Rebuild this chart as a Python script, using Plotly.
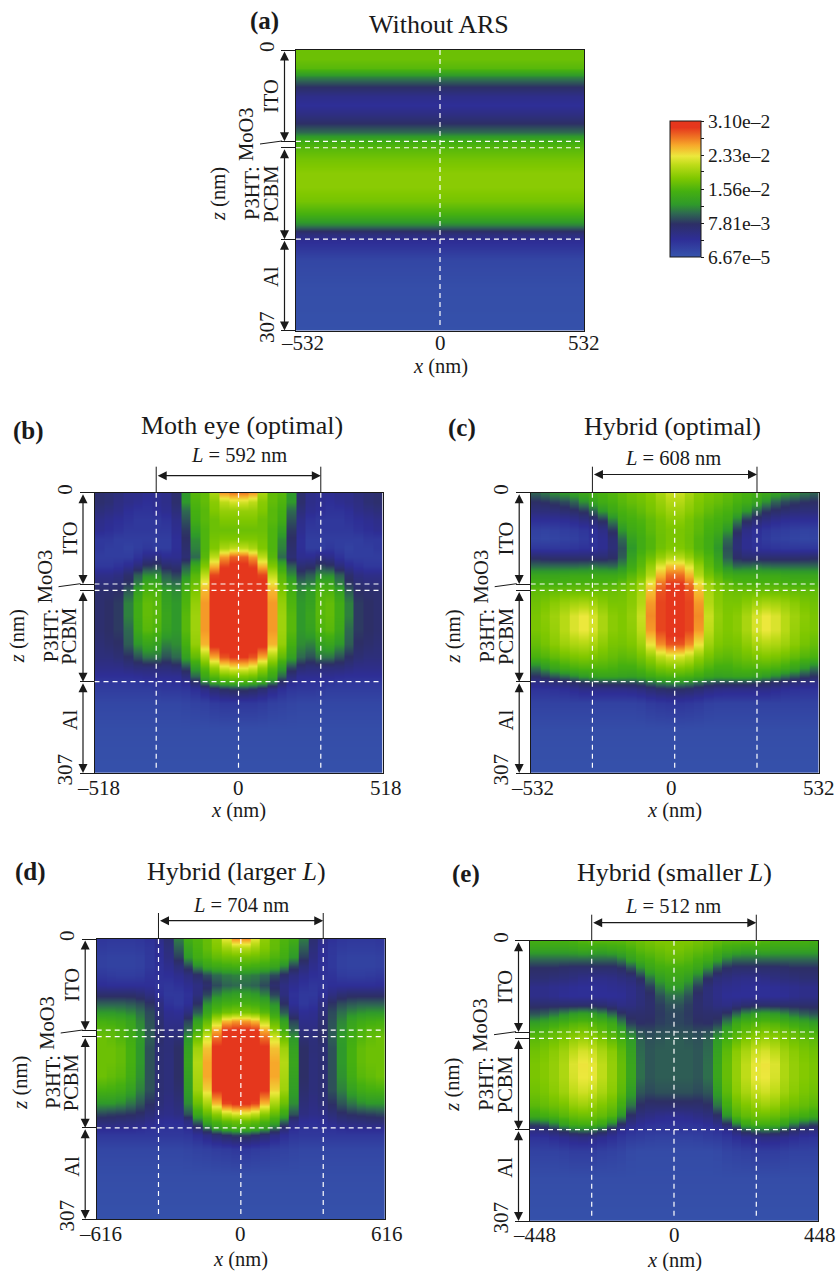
import numpy as np
import plotly.graph_objects as go

W, H = 838, 1271
FONT = "Liberation Serif"
INK = "#1a1a1a"

# Depth of each data row (nm) and layer interfaces
ROW_Z = [0, 10, 20, 30, 40, 50, 60, 70, 80, 90, 100, 107, 120, 135, 150, 165, 180, 192, 200, 207, 215, 230, 260, 307]
INTERFACES = [100, 107, 207]
Z_MAX = 307

# Field values in units of 1e-3.
# Each row lists the 15 columns from x = 0 out to the panel edge.
UNIT = 1e-3
A_PROFILE = [17, 17, 16, 11, 7.5, 5, 4, 5.5, 7.5, 10, 14.5, 16, 17.5, 18.5, 18.5, 17.5, 15, 11, 6.5, 4.5, 3.5, 1.5, 0.7, 0.4]

B_HALF = [
 [27,26,20,16.5,16,12,7,5,4.5,4.5,5,5,6,6.5,7],
 [22,21,18.5,16.5,15.5,12,7,5,4.5,4,4.5,5,5.5,6.5,7],
 [19,19,18,16,15,10,6,4.5,4,3.5,3.5,4,5,5.5,6],
 [18,18,17,16,14.5,9,5,3.5,3,3,3,3.5,4,4.5,5],
 [17,17,17,15.5,13,8,4.5,3,3,3,3,3,3.5,4,4.5],
 [18,18,17.5,15.5,11.5,7.5,4,2.5,2.5,2.5,2.5,2.5,2.5,3,3],
 [21,20,18,15.5,11,7,4,2.5,2.5,3,2.5,2,2.5,2.5,3],
 [28,26,21,16,10,6.5,4.5,4.5,5.5,5,3.5,2.5,2.5,2.5,2.5],
 [30,29,25,18,14,9.5,6.5,7,8.5,8,6,4.5,3.5,3,3],
 [31,31,29,21,16,11.5,8.5,9.5,11.5,11.5,9.5,7,5.5,5,5],
 [31,31,30,23.5,17,14,10.5,11,14,14,11,8,6.5,6,6],
 [31,31,31,25,18,15,11.5,12.5,15.5,15.5,13,9.5,7.5,7,7],
 [31,31,31,26,19,15.5,12,13,16,16.5,14.5,11,8,7.5,7],
 [31,31,31,26,19.5,16,12,13.5,16,16.5,14.5,11,8,7.5,7],
 [31,31,31,26,19.5,16,12,13,15.5,16,14,10,8,7.5,7],
 [31,31,30.5,25,19,15,11.5,11,13,13.5,12,9.5,7.5,7,6.5],
 [29.5,28.5,25.5,20,16.5,13,10,9,10.5,10.5,9,7.5,6.5,6,6],
 [23,22,19,16,12.5,8.5,6.5,6,6,6,6,5.5,5,5,5],
 [18,17.5,16,14,10,6,4.5,4.5,4.5,4.5,4.2,4,4,4,4],
 [15,14.5,13.5,11,7,4.5,3.8,3.5,3.5,3.3,3,3,3,3,3],
 [8.2,7.7,6.7,5.2,4,3.2,3,3,2.8,2.5,2.5,2.5,2.5,2.5,2.5],
 [3,3,2.7,2.2,2,1.7,1.5,1.5,1.5,1.5,1.5,1.5,1.5,1.5,1.5],
 [0.8,0.8,0.8,0.8,0.8,0.8,0.8,0.8,0.8,0.8,0.8,0.8,0.8,0.8,0.8],
 [0.4,0.4,0.4,0.4,0.4,0.4,0.4,0.4,0.4,0.4,0.4,0.4,0.4,0.4,0.4],
]

C_HALF = [
 [21.5,20,18.5,17.7,17.2,16.5,15.7,15.2,14.7,14,13,12.2,11.5,10.5,9.7],
 [20.5,19.2,18,17.2,16.7,16,15.2,14.5,13.2,11.5,9.7,8.7,8.2,7.7,7.5],
 [19.5,18.5,17.5,16.5,15.7,15.2,14,12,9.7,8,7.2,6.7,6.2,6,6],
 [18.5,17.5,16.5,15.5,15,14.2,11,8,6.5,5.5,4.7,4.2,4,4,4],
 [17.7,17.2,16.2,15,14.2,12,8,5.2,4,3.2,2.7,2.5,2.2,2,2.2],
 [17.7,17,15.7,14.5,13,10,6.5,4.5,3.5,2.7,2.2,2,1.7,1.5,1.7],
 [18,17.2,15.7,14.5,12,9,6.2,4.5,3.7,3.5,3.2,3,3,3,3],
 [20.5,19,17,15.5,13,9.5,7.2,6.5,6.5,6.5,6.5,6.5,6.5,6.7,7],
 [24.5,22.5,19,16.2,14.2,11.5,10,10.2,10.5,10.2,10,10,10,10,10],
 [27.5,25,20.5,17.5,16,14.5,14,14,14,14,14,13.7,13.5,13.5,13.5],
 [29.5,27.5,23.5,19.5,17.5,16.5,15.7,15.5,15.5,15.5,15.5,15.2,15,15,15],
 [30.5,28.5,24.7,20,18.2,17.2,17,17,17,17,17,17,16.7,16.5,16.5],
 [30.5,29,26,20.5,18.5,17.7,17.7,18.5,19.5,20,19.7,19.2,18.5,17.7,17.2],
 [30.5,29,26.5,21.5,19,18,18.5,20,22,23,22.2,20.7,19.5,18.5,17.7],
 [30.2,29,26,21,18.7,18,18.5,20,22,23,22.2,20.7,19.2,18.2,17.7],
 [28.5,26.5,23.2,19.5,18,17.5,17.7,18.7,20,20.5,20.2,19.5,18.5,17.5,16.7],
 [22,21,19,17.5,16.5,16.2,16.7,17.2,17.7,18,17.7,17.2,16.5,15.7,15.2],
 [18,17.5,16.5,15.5,14.7,14.7,15.2,15.5,15.5,15.5,15.2,14.5,13.5,12,10.5],
 [15.5,15.2,14.5,13.5,13,13.2,13.5,13.5,13.2,12.5,11.5,10.5,9.5,8.5,7.7],
 [12,11.5,10.5,9.5,9,9,9,9,8.7,8.2,7.5,6.7,6.2,5.7,5.2],
 [7.5,7.2,6.5,5.7,5.2,5,5,5,5,5,4.5,4,3.7,3.5,3.5],
 [3.2,3,2.7,2.2,2,2,2,2,2,2,2,2,2,2,2],
 [0.8,0.8,0.8,0.8,0.8,0.8,0.8,0.8,0.8,0.8,0.8,0.8,0.8,0.8,0.8],
 [0.4,0.4,0.4,0.4,0.4,0.4,0.4,0.4,0.4,0.4,0.4,0.4,0.4,0.4,0.4],
]

D_HALF = [
 [26,22.5,18.7,16.7,15.5,14.5,10.7,6.7,5,3.7,3.2,3,3,3,3.2],
 [20.5,19.5,18,16.5,15.2,13.2,9.5,6,4.2,3.2,2.7,2.5,2.5,2.5,2.7],
 [17.2,17,16.5,15.5,14.5,12,8.2,5.5,4,3,2.2,2,2,2,2.2],
 [15,14.7,14.2,13.5,11.5,8.5,6.2,4.7,3.7,3,2.2,2,2,2,2.2],
 [11,10.7,10,8.7,7.2,5.7,4.7,4,3.7,3.5,2.7,2.5,2.5,2.7,3],
 [10,9.7,8.7,7,5.5,4.5,3.7,3.2,3.5,4,4,4,4,4,4.2],
 [12.7,12.2,11,8.5,5.7,3.7,3,3,4,5.5,6.5,7,7,7,7],
 [15,14.7,13.7,11.5,7.5,4,3,3.5,5.5,7.7,8.7,9.2,9.5,9.5,9.5],
 [17.7,17.2,16,13.5,9.5,5.7,4.2,4.5,6.2,8.7,10.2,11.2,11.7,12,12],
 [26,25,21,16.5,13,8.5,5,5,6.7,9,11.2,13.2,14.2,14.7,15],
 [30,29.5,25.5,19,15,10,5.7,5.5,7,9.2,11.7,14,15.5,16,16],
 [31,30.5,27.5,22,17,12,6.5,6,7.2,9.5,12.2,14.5,15.7,16.5,17],
 [31,31,30,24.5,19.5,13,7.5,6.2,6.5,9,12,15,16.5,17,17],
 [31,31,31,25.5,20.5,13.5,7.5,6,6.5,9,12,15,16.5,17,17],
 [31,31,31,25.5,20,13,7.5,6,6.5,9,11.7,14.5,16,16.5,17],
 [31,31,30,24,19.5,12.5,7,6,6.5,9,11,13,14.5,15,15.2],
 [30,29,25,20,17,11.5,6.2,5.5,6.2,7.7,9.2,10.5,11.5,12,12],
 [22,21,18.5,16.5,14,9,5.5,5,5.2,6.2,7.2,7.7,8,8.2,8.5],
 [17,16.5,15.5,14,10,5.7,4.2,4,4.2,5,5.7,6,6.2,6.5,6.5],
 [14.7,14,12.7,10,6.5,4.2,3.5,3.5,3.5,3.7,4.2,4.5,4.5,4.5,4.5],
 [8.2,7.5,6.5,5.2,4,3.2,3,3,3,3,3,3,3,3,3],
 [3,2.7,2.5,2.2,2,1.7,1.5,1.5,1.5,1.5,1.5,1.5,1.5,1.5,1.5],
 [0.8,0.8,0.8,0.8,0.8,0.8,0.8,0.8,0.8,0.8,0.8,0.8,0.8,0.8,0.8],
 [0.4,0.4,0.4,0.4,0.4,0.4,0.4,0.4,0.4,0.4,0.4,0.4,0.4,0.4,0.4],
]

E_HALF = [
 [18,18,17.5,17,16.5,16,16,16,16,15.7,15.2,15,15,15,14.7],
 [17.5,17,16.5,16,15,14.2,13.7,13.2,13.5,13.7,13.2,13,13,13,13],
 [16.5,16,15.2,14.5,13,11,10,10,10,10,10,10,10,10,10],
 [15,14.7,13.7,11.5,9,7.5,7,7,7,7,7,7.2,7.5,7.5,7.5],
 [13.7,12.7,10.5,7.7,6.2,5.7,5.2,5,5,5.2,5.7,6,6.2,6.5,6.5],
 [12.2,10.7,8.2,6.2,5.2,4.7,4.5,4.2,4,4,4.2,4.5,4.7,5,5],
 [10.2,9,7.2,6,5,4.2,4,4,4,4,4,4.2,4.7,5,5],
 [9,8.2,7,6.2,5.5,5.2,6,6.7,7,7,7,7,7,7,7],
 [8.5,8,7.2,7,7,8,10,11.7,12.7,13,12.5,11.5,10.5,9.7,9.2],
 [8.5,8.2,7.7,7.5,8.2,11,14,15.2,15.7,16,15.7,15,14.2,13.5,12.7],
 [9,9,8.7,9,10.7,13.5,15.5,16.5,17.5,18,17.5,17,16.5,15.7,15.2],
 [9.5,9.2,9,9.7,12.2,15,16.5,18,19,19.5,19,18,17.2,16.7,16.2],
 [9.5,9.5,9.2,10,13,16.2,18.5,20,21.5,22,21,19.5,18.5,17.7,17.2],
 [9.5,9.5,9.2,10.2,13.5,16.7,19,21,22.7,23.2,22.3,20.2,19,18.2,17.7],
 [9.5,9.5,9.2,10.2,13.5,16.7,19,21,22.7,23,22,20.2,19,18.2,17.7],
 [9,9,8.7,9.2,12.5,16.2,18.5,20,21.2,21.7,21,19.5,18.5,17.7,17.2],
 [7,7,7,7.5,10.5,14.7,17,18,19,19.5,19,17.7,17.2,16.7,16.2],
 [4.5,4.7,5.2,5.7,7.2,11.7,15.5,16.5,17,17,16.7,16,15.2,14.7,14],
 [3.5,3.5,3.7,4.2,5.2,7.5,11,14,15,15,14.7,13.2,11,9.5,8.7],
 [3,3,3,3.2,3.7,4.5,6.5,9,10.2,10.5,10,8.7,7.2,6.2,5.7],
 [2,2,2.2,2.5,2.7,3.2,4,4.7,5.2,5.5,5.2,4.7,4.2,3.7,3.5],
 [1,1,1,1,1.2,1.7,2,2.2,2.5,2.5,2.5,2.2,2,2,2],
 [0.8,0.8,0.8,0.8,0.8,0.8,0.8,0.8,0.8,0.8,0.8,0.8,0.8,0.8,0.8],
 [0.4,0.4,0.4,0.4,0.4,0.4,0.4,0.4,0.4,0.4,0.4,0.4,0.4,0.4,0.4],
]

# Colour bar
CB_MIN, CB_MAX = 6.67e-5, 3.10e-2
CB_TICKVALS = [6.67e-5, 7.81e-3, 1.56e-2, 2.33e-2, 3.10e-2]
CB_TICKTEXT = ["6.67e\u20135", "7.81e\u20133", "1.56e\u20132", "2.33e\u20132", "3.10e\u20132"]
CB_MINOR = [3.94e-3, 1.17e-2, 1.95e-2, 2.72e-2]
COLOR_STOPS = [
    (0.0, "#3654AC"), (4.0, "#2E2E96"), (7.5, "#2D2F66"), (10.0, "#2E6A50"), (12.0, "#2F9A2A"),
    (15.0, "#45B010"), (18.0, "#80C800"), (21.0, "#BEDC18"), (23.0, "#ECE83C"), (25.5, "#F7A82A"),
    (27.0, "#F07C24"), (29.5, "#E5371D"), (31.0, "#E5371D"),
]

# Panels: half width, period, plot rectangle (pixels), text positions (pixels)
PANELS = [
    dict(tag="(a)", title="Without ARS", X=532, L=None, data=None,
         rect=(296, 584, 50, 330.5), title_xy=(439, 24), tag_xy=(264, 21), L_xy=None, arrow_y=None, xlab_y=366,
         tick_y=343, tick_shift=(6, 0, 0)),
    dict(tag="(b)", title="Moth eye (optimal)", X=518, L=592, data=B_HALF,
         rect=(94.5, 382.5, 492.7, 773), title_xy=(242, 425), tag_xy=(29, 431), L_xy=(239, 455), arrow_y=475.7, xlab_y=810,
         tick_y=788, tick_shift=(3.5, 0, 3)),
    dict(tag="(c)", title="Hybrid (optimal)", X=532, L=608, data=C_HALF,
         rect=(530.7, 818.7, 492.7, 773), title_xy=(672, 426), tag_xy=(462, 428), L_xy=(672.7, 458), arrow_y=474.5, xlab_y=810,
         tick_y=788, tick_shift=(2, -3, 0)),
    dict(tag="(d)", title="Hybrid (larger <i>L</i>)", X=616, L=704, data=D_HALF,
         rect=(96.7, 385, 939, 1219), title_xy=(236, 871), tag_xy=(31, 872), L_xy=(240.7, 905), arrow_y=920.7, xlab_y=1259,
         tick_y=1234, tick_shift=(4, 0, 2)),
    dict(tag="(e)", title="Hybrid (smaller <i>L</i>)", X=448, L=512, data=E_HALF,
         rect=(530, 818, 940.7, 1221), title_xy=(674, 872), tag_xy=(466, 874), L_xy=(673, 905.7), arrow_y=922.7, xlab_y=1260,
         tick_y=1235, tick_shift=(4, 0, 2)),
]

colorscale = [[v / 31.0, c] for v, c in COLOR_STOPS]


def px(x):
    return x / W


def py(y):
    return 1 - y / H


def text(s, x, y, size=20.5, angle=0, color=INK):
    return dict(text=s, x=px(x), y=py(y), xref="paper", yref="paper", showarrow=False, textangle=angle,
                xanchor="center", yanchor="middle", font=dict(family=FONT, size=size, color=color))


def arrow(x0, y0, x1, y1):
    return dict(text="", x=px(x1), y=py(y1), xref="paper", yref="paper", ax=x0 - x1, ay=y0 - y1,
                axref="pixel", ayref="pixel", showarrow=True, arrowside="end+start", arrowhead=2,
                arrowsize=1.5, arrowwidth=1.2, arrowcolor=INK, standoff=0, startstandoff=0)


def stepped_columns(half_rows, X):
    """Mirror the half rows and hold each value over its full column width."""
    rows = np.array(half_rows, dtype=float) * UNIT
    full = np.hstack([rows[:, ::-1], rows])
    n = rows.shape[1]
    centers = (np.arange(-n, n) + 0.5) * X / n
    half_w = 0.5 * X / n * 0.98
    xs = np.ravel(np.column_stack([centers - half_w, centers + half_w]))
    return xs, np.repeat(full, 2, axis=1)


fig = go.Figure()
annotations, shapes = [], []
layout_axes = {}

for i, p in enumerate(PANELS):
    x0, x1, y0, y1 = p["rect"]
    X = p["X"]
    suffix = "" if i == 0 else str(i + 1)
    if p["data"] is None:
        xs = [-X, X]
        zs = [[v * UNIT, v * UNIT] for v in A_PROFILE]
    else:
        xs, zs = stepped_columns(p["data"], X)
    fig.add_trace(go.Heatmap(x=xs, y=ROW_Z, z=zs, coloraxis="coloraxis", zsmooth="best",
                             xaxis="x" + suffix, yaxis="y" + suffix, hoverinfo="skip"))
    layout_axes["xaxis" + suffix] = dict(
        domain=[px(x0), px(x1)], anchor="y" + suffix, range=[-X, X],
        tickmode="array", tickvals=[-X, 0, X], showticklabels=False,
        ticks="", showgrid=False, zeroline=False, showline=True, mirror=True, linecolor=INK, linewidth=1,
    )
    layout_axes["yaxis" + suffix] = dict(
        domain=[py(y1), py(y0)], anchor="x" + suffix, range=[Z_MAX, 0],
        tickmode="array", tickvals=[0] + INTERFACES + [Z_MAX], ticktext=["0", "", "", "", str(Z_MAX)],
        tickangle=-90, ticks="outside", ticklen=14, tickwidth=1, tickcolor=INK,
        showgrid=False, zeroline=False, showline=True, mirror=True, linecolor=INK, linewidth=1,
        tickfont=dict(family=FONT, size=21, color=INK), ticklabelstandoff=-1,
    )

    xr, yr = "x" + suffix, "y" + suffix
    # x tick labels: anchored to the axis values, nudged as in the source figure
    for val, label, shift in zip([-X, 0, X], [f"\u2013{X}", "0", str(X)], p["tick_shift"]):
        annotations.append(dict(text=label, x=val, xref=xr, y=py(p["tick_y"]), yref="paper", xshift=shift,
                                showarrow=False, xanchor="center", yanchor="middle",
                                font=dict(family=FONT, size=21, color=INK)))

    dash = dict(color="white", width=1.2, dash="5px,4px")
    for z in INTERFACES:
        shapes.append(dict(type="line", xref=xr, yref=yr, x0=-X, x1=X * 0.985, y0=z, y1=z, line=dash))
    vlines = [0] if p["L"] is None else [-p["L"] / 2, 0, p["L"] / 2]
    for v in vlines:
        shapes.append(dict(type="line", xref=xr, yref=yr, x0=v, x1=v, y0=0, y1=302, line=dash))

    # Layer bars and labels
    zy = lambda z: y0 + (y1 - y0) * z / Z_MAX
    bar = x0 - 11.5
    annotations += [arrow(bar, zy(0), bar, zy(100)), arrow(bar, zy(107), bar, zy(207)), arrow(bar, zy(207), bar, zy(307))]
    annotations += [
        text("ITO", x0 - 25, y0 + 46), text("MoO3", x0 - 50, y0 + 84),
        text("P3HT:", x0 - 44, y0 + 143), text("PCBM", x0 - 25.5, y0 + 144),
        text("Al", x0 - 25, y0 + 227),
        text("<i>z</i> (nm)", x0 - 77, y0 + 144),
    ]
    for a in annotations[-6:]:
        a["textangle"] = -90
    shapes.append(dict(type="line", xref="paper", yref="paper", x0=px(x0 - 36), x1=px(x0 - 14),
                       y0=py(y0 + 94), y1=py(y0 + 91), line=dict(color=INK, width=1)))

    # Titles, x label
    annotations.append(text(p["title"], *p["title_xy"], size=26))
    annotations.append(text(f"<b>{p['tag']}</b>", *p["tag_xy"], size=25))
    annotations.append(text("<i>x</i> (nm)", (x0 + x1) / 2, p["xlab_y"]))

    # Period bracket
    if p["L"] is not None:
        hw = p["L"] / 2
        for v in (-hw, hw):
            shapes.append(dict(type="line", xref=xr, yref="paper", x0=v, x1=v, y0=py(y0), y1=py(y0 - 26),
                               line=dict(color=INK, width=1)))
        sx = (x1 - x0) / (2 * X)
        cx = (x0 + x1) / 2
        annotations.append(arrow(cx - hw * sx, p["arrow_y"], cx + hw * sx, p["arrow_y"]))
        annotations.append(text(f"<i>L</i> = {p['L']} nm", *p["L_xy"]))

fig.update_layout(
    width=W, height=H, margin=dict(l=0, r=0, t=0, b=0, autoexpand=False), autosize=False,
    paper_bgcolor="white", plot_bgcolor="white", showlegend=False,
    annotations=annotations, shapes=shapes,
    coloraxis=dict(
        cmin=CB_MIN, cmax=CB_MAX, colorscale=colorscale,
        colorbar=dict(
            thicknessmode="pixels", thickness=30.5, lenmode="pixels", len=136,
            x=px(669.5), xanchor="left", y=py(257.3), yanchor="bottom", xpad=0, ypad=0,
            outlinecolor=INK, outlinewidth=1, ticks="outside", ticklen=3, tickcolor=INK, tickwidth=1,
            tickmode="array", tickvals=CB_TICKVALS + CB_MINOR, ticktext=CB_TICKTEXT + [""] * len(CB_MINOR),
            tickfont=dict(family=FONT, size=19.5, color=INK),
        ),
    ),
    **layout_axes,
)

fig.write_html("out.html", config={"displayModeBar": False},
               post_script="document.body.style.margin='0';document.documentElement.style.overflow='hidden';")
